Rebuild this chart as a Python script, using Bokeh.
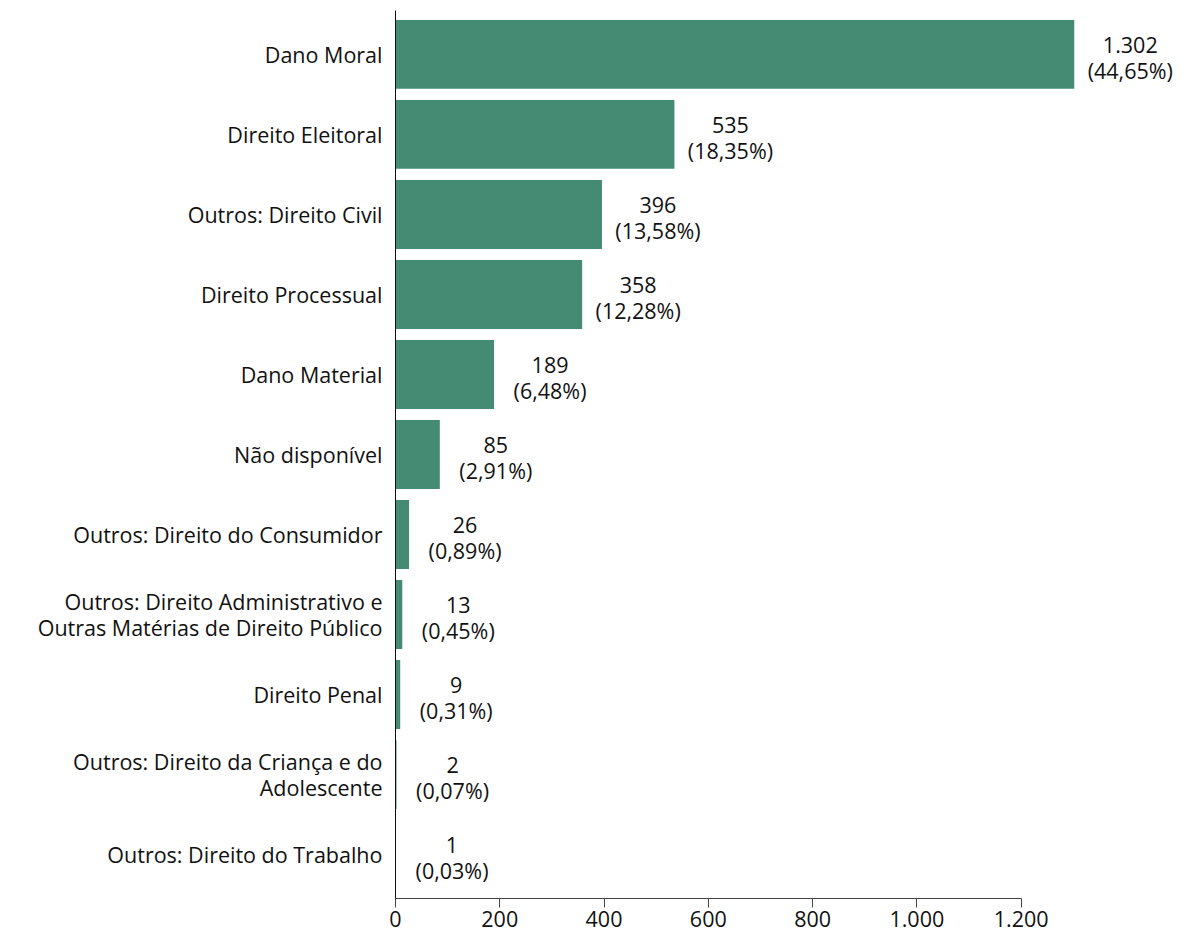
from bokeh.plotting import figure
from bokeh.models import FactorRange, Range1d, FixedTicker, ColumnDataSource
from bokeh.core.properties import value
from bokeh.embed import file_html
from bokeh.resources import INLINE

categories = [
    "Dano Moral",
    "Direito Eleitoral",
    "Outros: Direito Civil",
    "Direito Processual",
    "Dano Material",
    "Não disponível",
    "Outros: Direito do Consumidor",
    "Outros: Direito Administrativo e\nOutras Matérias de Direito Público",
    "Direito Penal",
    "Outros: Direito da Criança e do\nAdolescente",
    "Outros: Direito do Trabalho",
]
counts = [1302, 535, 396, 358, 189, 85, 26, 13, 9, 2, 1]
count_labels = ["1.302", "535", "396", "358", "189", "85", "26", "13", "9", "2", "1"]
pct_labels = ["(44,65%)", "(18,35%)", "(13,58%)", "(12,28%)", "(6,48%)", "(2,91%)",
              "(0,89%)", "(0,45%)", "(0,31%)", "(0,07%)", "(0,03%)"]
tick_values = [0, 200, 400, 600, 800, 1000, 1200]
tick_labels = ["0", "200", "400", "600", "800", "1.000", "1.200"]

FONT = "Open Sans"
FS = "21.5px"
BAR = "#458b73"
INK = "#111111"

src = ColumnDataSource(dict(
    cat=categories,
    cnt=counts,
    lab=[c + "\n" + p for c, p in zip(count_labels, pct_labels)],
))

p = figure(
    y_range=FactorRange(factors=categories[::-1], range_padding=0.009),
    x_range=Range1d(0, 1500),
    frame_width=782, frame_height=888,
    min_border_left=395, min_border_top=10, min_border_right=0, min_border_bottom=36,
    output_backend="svg", toolbar_location=None, tools="",
)
p.outline_line_color = None
p.grid.visible = False
p.background_fill_color = "white"

p.hbar(y="cat", right="cnt", left=0, height=0.86, source=src,
       fill_color=BAR, line_color=None)

p.text(x="cnt", y="cat", text="lab", source=src, x_offset=56, y_offset=3,
       text_align="center", text_baseline="middle",
       text_font=value(FONT), text_font_size=FS, text_color=INK,
       text_line_height=0.9)

xa = p.xaxis[0]
xa.ticker = FixedTicker(ticks=tick_values)
xa.major_label_overrides = {v: l for v, l in zip(tick_values, tick_labels)}
xa.bounds = (0, 1200)
xa.minor_tick_line_color = None
xa.major_tick_in = 0
xa.major_tick_out = 9
xa.axis_line_color = "#444444"
xa.major_tick_line_color = "#444444"
xa.major_label_text_font = FONT
xa.major_label_text_font_size = FS
xa.major_label_text_color = INK
xa.major_label_standoff = 3

ya = p.yaxis[0]
ya.major_tick_in = 0
ya.major_tick_out = 0
ya.minor_tick_line_color = None
ya.axis_line_color = INK
ya.major_label_text_font = FONT
ya.major_label_text_font_size = FS
ya.major_label_text_color = INK
ya.major_label_text_line_height = 0.92
ya.major_label_standoff = 13
ya.major_label_text_align = "right"

open("out.html", "w").write(file_html(p, INLINE))
